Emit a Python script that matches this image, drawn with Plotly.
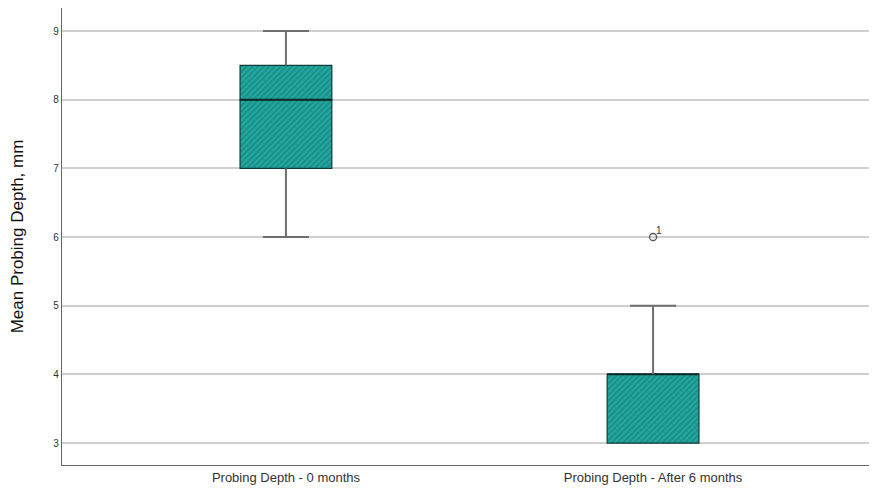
import plotly.graph_objects as go

categories = ["Probing Depth - 0 months", "Probing Depth - After 6 months"]
q1 = [7.0, 3.0]
median = [8.0, 4.0]
q3 = [8.5, 4.0]
lower_whisker = [6.0, 3.0]
upper_whisker = [9.0, 5.0]
outlier_cat = [1]
outlier_val = [6.0]
outlier_label = ["1"]

xs = list(range(len(categories)))
BOX_W = 0.25
CAP_HALF = 0.0627

fill = "#22aaa1"
stripe = "#13716b"
edge = "#0f3b38"
whisk = "#6e6e6e"

fig = go.Figure()

pat = dict(shape="/", fgcolor=stripe, bgcolor=fill, size=4, solidity=0.5)
# lower box part (q1 -> median)
fig.add_trace(go.Bar(
    x=xs, y=[m - a for m, a in zip(median, q1)], base=q1, width=BOX_W,
    marker=dict(color=fill, line=dict(color=edge, width=1.2), pattern=pat),
    showlegend=False, hoverinfo="skip"))
# upper box part (median -> q3)
fig.add_trace(go.Bar(
    x=xs, y=[b - m for b, m in zip(q3, median)], base=median, width=BOX_W,
    marker=dict(color=fill, line=dict(color=edge, width=1.2), pattern=pat),
    showlegend=False, hoverinfo="skip"))
# median lines
mx, my = [], []
for i in xs:
    mx += [i - BOX_W / 2, i + BOX_W / 2, None]
    my += [median[i], median[i], None]
fig.add_trace(go.Scatter(x=mx, y=my, mode="lines", line=dict(color="#0c2a28", width=2),
                         showlegend=False, hoverinfo="skip"))

# whiskers and caps
wx, wy = [], []
for i in xs:
    if upper_whisker[i] > q3[i]:
        wx += [i, i, None, i - CAP_HALF, i + CAP_HALF, None]
        wy += [q3[i], upper_whisker[i], None, upper_whisker[i], upper_whisker[i], None]
    if lower_whisker[i] < q1[i]:
        wx += [i, i, None, i - CAP_HALF, i + CAP_HALF, None]
        wy += [q1[i], lower_whisker[i], None, lower_whisker[i], lower_whisker[i], None]
fig.add_trace(go.Scatter(x=wx, y=wy, mode="lines", line=dict(color=whisk, width=2),
                         showlegend=False, hoverinfo="skip"))

# outliers
fig.add_trace(go.Scatter(
    x=outlier_cat, y=outlier_val, mode="markers",
    marker=dict(symbol="circle-open", size=7, color="#555555", line=dict(width=1.3)),
    showlegend=False, hoverinfo="skip"))
for c, v, t in zip(outlier_cat, outlier_val, outlier_label):
    fig.add_annotation(x=c, y=v, text=t, showarrow=False, xshift=6, yshift=7,
                       font=dict(size=10, color="#333333"))

fig.update_layout(
    width=877, height=478,
    margin=dict(l=54, r=8, t=0, b=21),
    paper_bgcolor="white", plot_bgcolor="white",
    font=dict(family="Liberation Sans, Arial, sans-serif", color="#222222"),
    barmode="overlay",
)
fig.update_xaxes(
    range=[-0.61, 1.61], tickvals=xs, ticktext=categories,
    tickfont=dict(size=13, color="#333333"),
    showgrid=False, zeroline=False, showline=True, linecolor="#666666", linewidth=1.2,
    ticks="", automargin=False,
)
fig.update_yaxes(
    range=[2.68, 9.335], tickvals=[3, 4, 5, 6, 7, 8, 9],
    tickfont=dict(size=10, color="#333333"),
    showgrid=True, gridcolor="#cfcfcf", gridwidth=1.5, zeroline=False,
    showline=True, linecolor="#666666", linewidth=1.2, ticks="", automargin=False,
    title=dict(text="Mean Probing Depth, mm", font=dict(size=17, color="#111111"), standoff=25),
)

fig.write_html("out.html")
